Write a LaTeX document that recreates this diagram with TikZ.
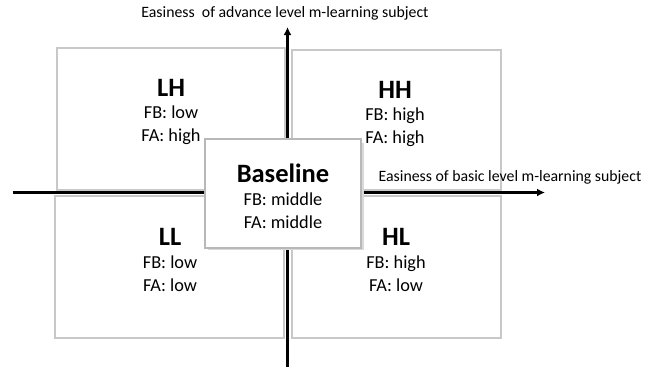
\documentclass[tikz,border=0pt]{standalone}
\usepackage{fontspec}
\setmainfont{Carlito}
\usetikzlibrary{arrows.meta}
\definecolor{boxgray}{RGB}{200,200,200}
\tikzset{
  quad/.style={draw=boxgray, line width=2pt, fill=white, rectangle, inner sep=0pt},
  ttl/.style={font=\fontsize{26.5}{28}\selectfont\bfseries, inner sep=0pt},
  body/.style={font=\fontsize{18.3}{23}\selectfont, align=center, inner sep=0pt},
  axlab/.style={font=\fontsize{15.8}{18}\selectfont, inner sep=0pt},
  axis/.style={line width=2.4pt, -{Latex[length=8pt,width=8pt]}}
}
\begin{document}
\begin{tikzpicture}[x=1pt,y=-1pt]
\useasboundingbox (0,0) rectangle (655,368);
% quadrant boxes
\node[quad, minimum width=228pt, minimum height=142pt] (LH) at (170.5,118.5) {};
\node[quad, minimum width=209pt, minimum height=140pt] (HH) at (396,119.5) {};
\node[quad, minimum width=229pt, minimum height=142pt] (LL) at (169.5,267) {};
\node[quad, minimum width=209pt, minimum height=142pt] (HL) at (396,267) {};
% axes
\coordinate (xl) at (12.5,192.5);
\coordinate (xr) at (545,192.5);
\coordinate (yb) at (287.5,367);
\coordinate (yt) at (287.5,27);
\draw[axis] (xl) -- (xr);
\draw[axis] (yb) -- (yt);
% axis labels
\node[axlab] (ylab) at (285,13) {Easiness\ \ of advance level m-learning subject};
\node[axlab, anchor=west] (xlab) at (378.5,177) {Easiness of basic level m-learning subject};
% quadrant texts
\node[ttl] (tLH) at (171,88) {LH};
\node[body] (bLH) at (171,125.5) {FB: low\\FA: high};
\node[ttl] (tHH) at (395,90) {HH};
\node[body] (bHH) at (395,127) {FB: high\\FA: high};
\node[ttl] (tLL) at (170,237) {LL};
\node[body] (bLL) at (170,274) {FB: low\\FA: low};
\node[ttl] (tHL) at (396,237) {HL};
\node[body] (bHL) at (396,274) {FB: high\\FA: low};
% baseline box
\fill[black!15] (208,143) rectangle (364,250);
\node[quad, draw=black!28, minimum width=156pt, minimum height=109pt] (BL) at (283,193) {};
\node[ttl] (tBL) at (283,173) {Baseline};
\node[body] (bBL) at (283,210.5) {FB: middle\\FA: middle};
\end{tikzpicture}
\end{document}
